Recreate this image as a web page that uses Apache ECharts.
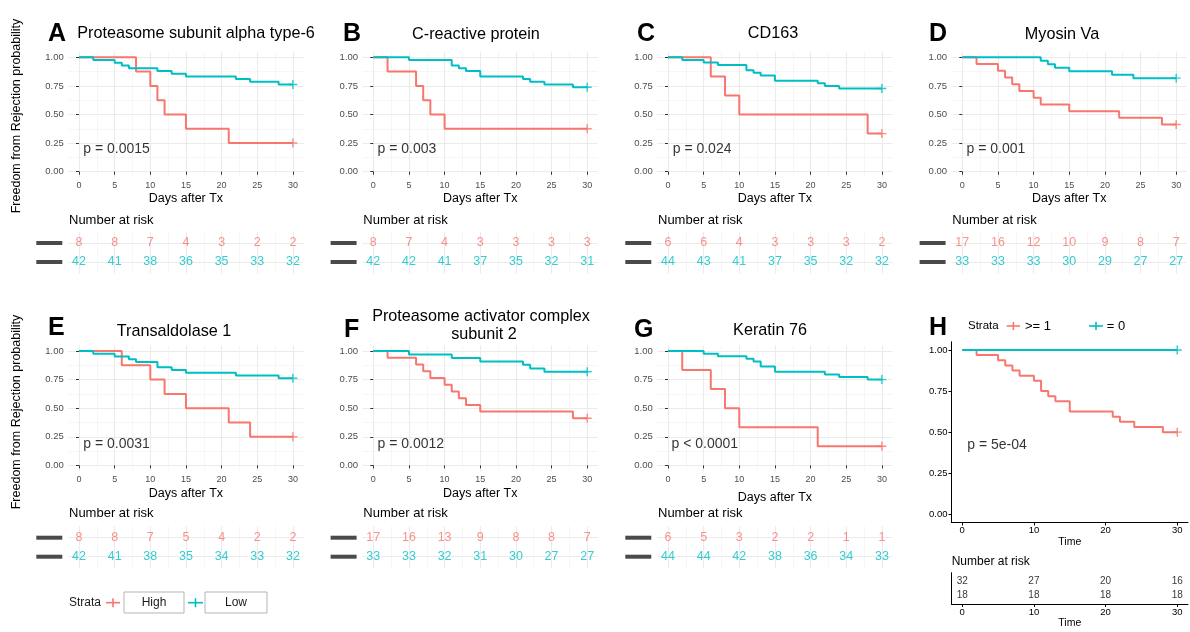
<!DOCTYPE html>
<html><head><meta charset="utf-8">
<script src="https://cdn.jsdelivr.net/npm/echarts@6/dist/echarts.min.js"></script>
<style>html,body{margin:0;padding:0;background:#fff}#c{width:1190px;height:632px}</style>
</head><body><div id="c"></div>
<script>
const RED = '#F8766D', CYAN = '#00BFC4';
const FONT = "'Liberation Sans', Arial, Helvetica, sans-serif";

// ---- shared tick / category arrays ----
const riskDays = [0, 5, 10, 15, 20, 25, 30];
const xTickValues = [0, 5, 10, 15, 20, 25, 30];
const xTickLabels = ['0', '5', '10', '15', '20', '25', '30'];
const xMinorValues = [2.5, 7.5, 12.5, 17.5, 22.5, 27.5];
const yTickValues = [0, 0.25, 0.5, 0.75, 1];
const yTickLabels = ['0.00', '0.25', '0.50', '0.75', '1.00'];
const yMinorValues = [0.125, 0.375, 0.625, 0.875];
const hTickValues = [0, 10, 20, 30];
const hTickLabels = ['0', '10', '20', '30'];
const strataNames = ['High', 'Low'];
const hStrataNames = ['>= 1', '= 0'];

// ---- A: Proteasome subunit alpha type-6 ----
const aHighTime = [0, 8, 10, 11, 12, 15, 21, 30];
const aHighSurv = [1, 0.875, 0.75, 0.625, 0.5, 0.375, 0.25, 0.25];
const aLowTime = [0, 2, 5, 6, 7, 11, 13, 15, 22, 24, 28, 30];
const aLowSurv = [1, 0.976, 0.952, 0.929, 0.905, 0.881, 0.857, 0.833, 0.810, 0.786, 0.762, 0.762];
const aHighRisk = [8, 8, 7, 4, 3, 2, 2];
const aLowRisk = [42, 41, 38, 36, 35, 33, 32];

// ---- B: C-reactive protein ----
const bHighTime = [0, 2, 6, 7, 8, 10, 30];
const bHighSurv = [1, 0.875, 0.75, 0.625, 0.5, 0.375, 0.375];
const bLowTime = [0, 5, 11, 12, 13, 15, 21, 22, 24, 28, 30];
const bLowSurv = [1, 0.976, 0.929, 0.905, 0.881, 0.833, 0.810, 0.786, 0.762, 0.738, 0.738];
const bHighRisk = [8, 7, 4, 3, 3, 3, 3];
const bLowRisk = [42, 42, 41, 37, 35, 32, 31];

// ---- C: CD163 ----
const cHighTime = [0, 6, 8, 10, 28, 30];
const cHighSurv = [1, 0.833, 0.667, 0.5, 0.333, 0.333];
const cLowTime = [0, 2, 5, 7, 11, 12, 13, 15, 21, 22, 24, 30];
const cLowSurv = [1, 0.977, 0.955, 0.932, 0.886, 0.864, 0.841, 0.795, 0.773, 0.750, 0.727, 0.727];
const cHighRisk = [6, 6, 4, 3, 3, 3, 2];
const cLowRisk = [44, 43, 41, 37, 35, 32, 32];

// ---- D: Myosin Va ----
const dHighTime = [0, 2, 5, 6, 7, 8, 10, 11, 15, 22, 28, 30];
const dHighSurv = [1, 0.941, 0.882, 0.824, 0.765, 0.706, 0.647, 0.588, 0.529, 0.471, 0.412, 0.412];
const dLowTime = [0, 11, 12, 13, 15, 21, 24, 30];
const dLowSurv = [1, 0.970, 0.939, 0.909, 0.879, 0.848, 0.818, 0.818];
const dHighRisk = [17, 16, 12, 10, 9, 8, 7];
const dLowRisk = [33, 33, 33, 30, 29, 27, 27];

// ---- E: Transaldolase 1 ----
const eHighTime = [0, 6, 10, 12, 15, 21, 24, 30];
const eHighSurv = [1, 0.875, 0.75, 0.625, 0.5, 0.375, 0.25, 0.25];
const eLowTime = [0, 2, 5, 7, 8, 11, 13, 15, 22, 28, 30];
const eLowSurv = [1, 0.976, 0.952, 0.929, 0.905, 0.857, 0.833, 0.810, 0.786, 0.762, 0.762];
const eHighRisk = [8, 8, 7, 5, 4, 2, 2];
const eLowRisk = [42, 41, 38, 35, 34, 33, 32];

// ---- F: Proteasome activator complex subunit 2 ----
const fHighTime = [0, 2, 6, 7, 8, 10, 11, 12, 13, 15, 28, 30];
const fHighSurv = [1, 0.941, 0.882, 0.824, 0.765, 0.706, 0.647, 0.588, 0.529, 0.471, 0.412, 0.412];
const fLowTime = [0, 5, 11, 15, 21, 22, 24, 30];
const fLowSurv = [1, 0.970, 0.939, 0.909, 0.879, 0.848, 0.818, 0.818];
const fHighRisk = [17, 16, 13, 9, 8, 8, 7];
const fLowRisk = [33, 33, 32, 31, 30, 27, 27];

// ---- G: Keratin 76 ----
const gHighTime = [0, 2, 6, 8, 10, 21, 30];
const gHighSurv = [1, 0.833, 0.667, 0.5, 0.333, 0.167, 0.167];
const gLowTime = [0, 5, 7, 11, 12, 13, 15, 22, 24, 28, 30];
const gLowSurv = [1, 0.977, 0.955, 0.932, 0.909, 0.864, 0.818, 0.795, 0.773, 0.750, 0.750];
const gHighRisk = [6, 5, 3, 2, 2, 1, 1];
const gLowRisk = [44, 44, 42, 38, 36, 34, 33];

// ---- H ----
const hHighTime = [0, 2, 5, 6, 7, 8, 10, 11, 12, 13, 15, 21, 22, 24, 28, 30];
const hHighSurv = [1, 0.969, 0.938, 0.906, 0.875, 0.844, 0.813, 0.75, 0.719, 0.688, 0.625, 0.594, 0.563, 0.531, 0.5, 0.5];
const hLowTime = [0, 30];
const hLowSurv = [1, 1];
const hRiskDays = [0, 10, 20, 30];
const hHighRisk = [32, 27, 20, 16];
const hLowRisk = [18, 18, 18, 18];

const titles = ['Proteasome subunit alpha type-6', 'C-reactive protein', 'CD163', 'Myosin Va',
  'Transaldolase 1', 'Proteasome activator complex\nsubunit 2', 'Keratin 76'];
const letters = ['A', 'B', 'C', 'D', 'E', 'F', 'G', 'H'];
const pValues = ['p = 0.0015', 'p = 0.003', 'p = 0.024', 'p = 0.001', 'p = 0.0031', 'p = 0.0012', 'p < 0.0001', 'p = 5e-04'];

// ---- layout (pixels) ----
const colLeft = [68.3, 362.6, 657.3, 951.6];
const plotW = 235.3;
const mainTop = [51.6, 345.3], mainH = 125.8;
const riskTop = [231.6, 526.3], riskH = 41.8;
const panels = [
  {c: 0, r: 0, hi: [aHighTime, aHighSurv], lo: [aLowTime, aLowSurv], risk: [aHighRisk, aLowRisk], gap: 15, letter: [48, 34], title: [[196, 33.5]], pv: [0.6, 0.2]},
  {c: 1, r: 0, hi: [bHighTime, bHighSurv], lo: [bLowTime, bLowSurv], risk: [bHighRisk, bLowRisk], gap: 15, letter: [343, 34], title: [[476, 35]], pv: [0.6, 0.2]},
  {c: 2, r: 0, hi: [cHighTime, cHighSurv], lo: [cLowTime, cLowSurv], risk: [cHighRisk, cLowRisk], gap: 15, letter: [637, 34], title: [[773, 33.5]], pv: [0.66, 0.2]},
  {c: 3, r: 0, hi: [dHighTime, dHighSurv], lo: [dLowTime, dLowSurv], risk: [dHighRisk, dLowRisk], gap: 15, letter: [929, 34], title: [[1062, 35]], pv: [0.6, 0.2]},
  {c: 0, r: 1, hi: [eHighTime, eHighSurv], lo: [eLowTime, eLowSurv], risk: [eHighRisk, eLowRisk], gap: 16, letter: [48, 328], title: [[174, 331.5]], pv: [0.6, 0.185]},
  {c: 1, r: 1, hi: [fHighTime, fHighSurv], lo: [fLowTime, fLowSurv], risk: [fHighRisk, fLowRisk], gap: 15.5, letter: [344, 330], title: [[481, 316.7], [484, 335]], pv: [0.6, 0.19]},
  {c: 2, r: 1, hi: [gHighTime, gHighSurv], lo: [gLowTime, gLowSurv], risk: [gHighRisk, gLowRisk], gap: 19.5, letter: [634, 330], title: [[770, 330.7]], pv: [0.5, 0.19]}
];

const grids = [], xAxes = [], yAxes = [], series = [], graphics = [];
const PLUS = 'path://M4.2,0h1.6v4.2h4.2v1.6h-4.2v4.2h-1.6v-4.2h-4.2v-1.6h4.2z';
const zip = (t, s) => t.map((v, i) => [v, s[i]]);
const lab = (vals, labels) => v => { const i = vals.findIndex(x => Math.abs(x - v) < 1e-9); return i >= 0 ? labels[i] : ''; };

function curve(xi, yi, t, s, color) {
  series.push({type: 'line', xAxisIndex: xi, yAxisIndex: yi, data: zip(t, s), step: 'end', symbol: 'none',
    lineStyle: {color: color, width: 2}, itemStyle: {color: color}, silent: true, z: 3});
  series.push({type: 'scatter', xAxisIndex: xi, yAxisIndex: yi, data: [[t[t.length - 1], s[s.length - 1]]],
    symbol: PLUS, symbolSize: 9, itemStyle: {color: color}, silent: true, z: 4});
}
function textAt(xi, yi, pos, txt, size) {
  series.push({type: 'scatter', xAxisIndex: xi, yAxisIndex: yi, data: [pos], symbolSize: 0.01, silent: true,
    label: {show: true, position: 'right', distance: 0, formatter: txt, fontSize: size, color: '#000', fontFamily: FONT}});
}
function minorX(gi) {
  xAxes.push({gridIndex: gi, type: 'value', min: -1.5, max: 31.5, position: 'top', axisLine: {show: false},
    axisTick: {show: false, customValues: xMinorValues}, axisLabel: {show: false, customValues: xMinorValues},
    splitLine: {show: true, lineStyle: {color: '#F2F2F2', width: 0.7}}});
}

panels.forEach((p, k) => {
  const left = colLeft[p.c];
  // main plot
  let gi = grids.length;
  grids.push({left: left, top: mainTop[p.r], width: plotW, height: mainH});
  const xi = xAxes.length;
  xAxes.push({gridIndex: gi, type: 'value', min: -1.5, max: 31.5, name: 'Days after Tx', nameLocation: 'middle', nameGap: p.gap,
    nameTextStyle: {fontSize: 12.5, color: '#000', fontFamily: FONT},
    axisLine: {show: false}, axisTick: {show: true, length: 3, lineStyle: {color: '#333'}, customValues: xTickValues},
    axisLabel: {customValues: xTickValues, formatter: lab(xTickValues, xTickLabels), fontSize: 9, color: '#4D4D4D', margin: 3.5, fontFamily: FONT},
    splitLine: {show: true, lineStyle: {color: '#EBEBEB', width: 1.1}}});
  minorX(gi);
  const yi = yAxes.length;
  yAxes.push({gridIndex: gi, type: 'value', min: -0.05, max: 1.05, axisLine: {show: false},
    axisTick: {show: true, length: 3, lineStyle: {color: '#333'}, customValues: yTickValues},
    axisLabel: {customValues: yTickValues, formatter: lab(yTickValues, yTickLabels), fontSize: 9.5, color: '#4D4D4D', margin: 4.5, fontFamily: FONT},
    splitLine: {show: true, lineStyle: {color: '#EBEBEB', width: 1.1}}});
  yAxes.push({gridIndex: gi, type: 'value', min: -0.05, max: 1.05, position: 'right', axisLine: {show: false},
    axisTick: {show: false, customValues: yMinorValues}, axisLabel: {show: false, customValues: yMinorValues},
    splitLine: {show: true, lineStyle: {color: '#F2F2F2', width: 0.7}}});
  curve(xi, yi, p.hi[0], p.hi[1], RED);
  curve(xi, yi, p.lo[0], p.lo[1], CYAN);
  textAt(xi, yi, p.pv, pValues[k], 14);

  // risk table
  gi = grids.length;
  grids.push({left: left, top: riskTop[p.r], width: plotW, height: riskH});
  const rxi = xAxes.length;
  xAxes.push({gridIndex: gi, type: 'value', min: -1.5, max: 31.5, axisLine: {show: false},
    axisTick: {show: false, customValues: xTickValues}, axisLabel: {show: false, customValues: xTickValues},
    splitLine: {show: true, lineStyle: {color: '#EBEBEB', width: 1.1}}});
  minorX(gi);
  const ryi = yAxes.length;
  yAxes.push({gridIndex: gi, type: 'value', min: 0.4, max: 2.6, axisLine: {show: false},
    axisTick: {show: false, customValues: [1, 2]},
    axisLabel: {show: true, customValues: [1, 2], margin: 6, formatter: () => '{b|}',
      rich: {b: {width: 26, height: 4, backgroundColor: '#4a4a4a'}}},
    splitLine: {show: true, lineStyle: {color: '#EBEBEB', width: 1.1}}});
  [[p.risk[0], 2, RED], [p.risk[1], 1, CYAN]].forEach(([vals, row, col]) => {
    series.push({type: 'scatter', xAxisIndex: rxi, yAxisIndex: ryi, symbolSize: 0.01, silent: true,
      data: riskDays.map((d, j) => [d, row, vals[j]]),
      label: {show: true, position: 'inside', formatter: q => String(q.value[2]), fontSize: 12.5, color: col, fontFamily: FONT}});
  });

  graphics.push({type: 'text', x: left + 0.7, y: (p.r === 0 ? 220 : 513.3),
    style: {text: 'Number at risk', fontSize: 13, fontFamily: FONT, fill: '#000', verticalAlign: 'middle', align: 'left'}});
  const tl = titles[k].split('\n');
  tl.forEach((line, li) => graphics.push({type: 'text', x: p.title[li][0], y: p.title[li][1],
    style: {text: line, fontSize: 16.2, fontFamily: FONT, fill: '#000', align: 'center', verticalAlign: 'middle'}}));
  graphics.push({type: 'text', x: p.letter[0], y: p.letter[1],
    style: {text: letters[k], fontSize: 25, fontWeight: 'bold', fontFamily: FONT, fill: '#000', align: 'left', verticalAlign: 'middle'}});
});

// ---- Panel H ----
(function () {
  const left = 951.5, w = 236.5;
  let gi = grids.length;
  grids.push({left: left, top: 341.8, width: w, height: 180.7});
  const xi = xAxes.length;
  xAxes.push({gridIndex: gi, type: 'value', min: -1.5, max: 31.5, name: 'Time', nameLocation: 'middle', nameGap: 13,
    nameTextStyle: {fontSize: 10.5, color: '#000', fontFamily: FONT},
    axisLine: {show: true, onZero: false, lineStyle: {color: '#000', width: 1}},
    axisTick: {show: true, length: 3, lineStyle: {color: '#000'}, customValues: hTickValues},
    axisLabel: {customValues: hTickValues, formatter: lab(hTickValues, hTickLabels), fontSize: 9.5, color: '#000', margin: 3, fontFamily: FONT},
    splitLine: {show: false}});
  const yi = yAxes.length;
  yAxes.push({gridIndex: gi, type: 'value', min: -0.05, max: 1.05,
    axisLine: {show: true, onZero: false, lineStyle: {color: '#000', width: 1}},
    axisTick: {show: true, length: 3, lineStyle: {color: '#000'}, customValues: yTickValues},
    axisLabel: {customValues: yTickValues, formatter: lab(yTickValues, yTickLabels), fontSize: 9.5, color: '#000', margin: 4, fontFamily: FONT},
    splitLine: {show: false}});
  curve(xi, yi, hHighTime, hHighSurv, RED);
  curve(xi, yi, hLowTime, hLowSurv, CYAN);
  textAt(xi, yi, [0.7, 0.42], pValues[7], 14);

  gi = grids.length;
  grids.push({left: left, top: 572.7, width: w, height: 31.3});
  const rxi = xAxes.length;
  xAxes.push({gridIndex: gi, type: 'value', min: -1.5, max: 31.5, name: 'Time', nameLocation: 'middle', nameGap: 13.5,
    nameTextStyle: {fontSize: 10.5, color: '#000', fontFamily: FONT},
    axisLine: {show: true, onZero: false, lineStyle: {color: '#000', width: 1}},
    axisTick: {show: true, length: 3, lineStyle: {color: '#000'}, customValues: hTickValues},
    axisLabel: {customValues: hTickValues, formatter: lab(hTickValues, hTickLabels), fontSize: 9.5, color: '#000', margin: 3, fontFamily: FONT},
    splitLine: {show: false}});
  const ryi = yAxes.length;
  yAxes.push({gridIndex: gi, type: 'value', min: 0.4, max: 2.6,
    axisLine: {show: true, onZero: false, lineStyle: {color: '#000', width: 1}},
    axisTick: {show: false}, axisLabel: {show: false}, splitLine: {show: false}});
  [[hHighRisk, 2], [hLowRisk, 1]].forEach(([vals, row]) => {
    series.push({type: 'scatter', xAxisIndex: rxi, yAxisIndex: ryi, symbolSize: 0.01, silent: true,
      data: hRiskDays.map((d, j) => [d, row, vals[j]]),
      label: {show: true, position: 'inside', formatter: q => String(q.value[2]), fontSize: 10, color: '#000', fontFamily: FONT}});
  });
  graphics.push({type: 'text', x: 951.7, y: 561.7,
    style: {text: 'Number at risk', fontSize: 12, fontFamily: FONT, fill: '#000', verticalAlign: 'middle', align: 'left'}});
  graphics.push({type: 'text', x: 929, y: 328,
    style: {text: letters[7], fontSize: 25, fontWeight: 'bold', fontFamily: FONT, fill: '#000', align: 'left', verticalAlign: 'middle'}});
  // H legend
  graphics.push({type: 'text', x: 968, y: 326, style: {text: 'Strata', fontSize: 11.5, fontFamily: FONT, fill: '#000', verticalAlign: 'middle'}});
  [[1006.7, 1020, RED, hStrataNames[0], 1025], [1089, 1103, CYAN, hStrataNames[1], 1106.7]].forEach(([a, b, col, txt, tx]) => {
    graphics.push({type: 'line', shape: {x1: a, y1: 326, x2: b, y2: 326}, style: {stroke: col, lineWidth: 1.6}});
    graphics.push({type: 'line', shape: {x1: (a + b) / 2, y1: 322, x2: (a + b) / 2, y2: 330}, style: {stroke: col, lineWidth: 1.6}});
    graphics.push({type: 'text', x: tx, y: 326, style: {text: txt, fontSize: 13, fontFamily: FONT, fill: '#000', verticalAlign: 'middle'}});
  });
})();

// ---- shared y title and bottom legend ----
[116, 412].forEach(cy => graphics.push({type: 'text', x: 17, y: cy, rotation: Math.PI / 2,
  style: {text: 'Freedom from Rejection probability', fontSize: 12.5, fontFamily: FONT, fill: '#000', align: 'center', verticalAlign: 'middle'}}));
graphics.push({type: 'text', x: 69, y: 602.7, style: {text: 'Strata', fontSize: 12, fontFamily: FONT, fill: '#1a1a1a', verticalAlign: 'middle'}});
[[106, 120, RED, 124, 60, strataNames[0]], [188, 203, CYAN, 205, 62, strataNames[1]]].forEach(([a, b, col, rx, rw, txt]) => {
  graphics.push({type: 'line', shape: {x1: a, y1: 602.7, x2: b, y2: 602.7}, style: {stroke: col, lineWidth: 1.6}});
  graphics.push({type: 'line', shape: {x1: (a + b) / 2, y1: 598.2, x2: (a + b) / 2, y2: 607.2}, style: {stroke: col, lineWidth: 1.6}});
  graphics.push({type: 'rect', shape: {x: rx, y: 592, width: rw, height: 21}, style: {fill: '#fff', stroke: '#b5b5b5', lineWidth: 1}});
  graphics.push({type: 'text', x: rx + rw / 2, y: 602.7, style: {text: txt, fontSize: 12, fontFamily: FONT, fill: '#1a1a1a', align: 'center', verticalAlign: 'middle'}});
});

const chart = echarts.init(document.getElementById('c'), null, {renderer: 'canvas'});
chart.setOption({
  animation: false,
  backgroundColor: '#fff',
  textStyle: {fontFamily: FONT},
  grid: grids, xAxis: xAxes, yAxis: yAxes, series: series,
  graphic: graphics
});
</script></body></html>
